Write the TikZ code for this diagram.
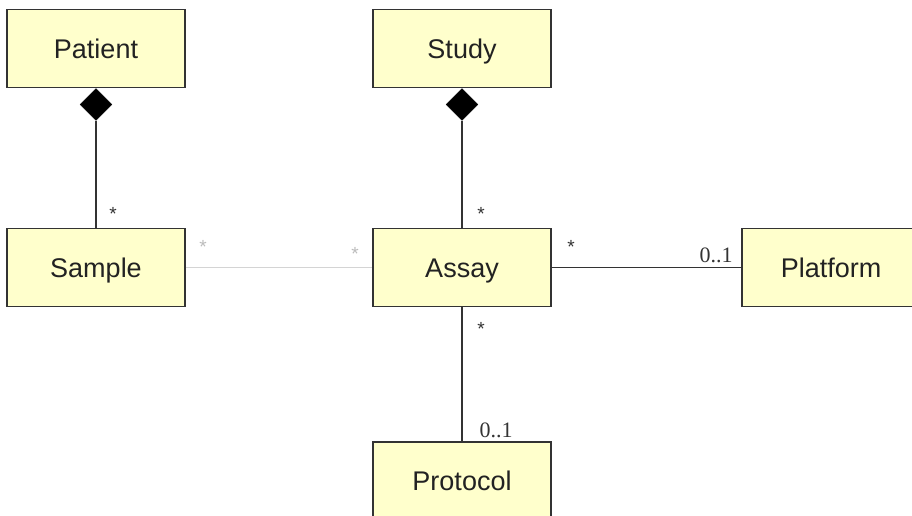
\documentclass[tikz,border=0pt]{standalone}
\usepackage{fontspec}
\setmainfont{Liberation Sans}
\newfontfamily\multfont{Liberation Serif}
\usetikzlibrary{shapes.geometric}
\definecolor{classfill}{HTML}{FFFFCC}
\definecolor{classline}{HTML}{333333}
\definecolor{classtext}{HTML}{222222}
\definecolor{faint}{HTML}{D4D4D4}
\definecolor{faintstar}{HTML}{BBBBBB}
\tikzset{
  classbox/.style={draw=classline, fill=classfill, line width=1.6pt,
    minimum width=178pt, minimum height=78pt, inner sep=0pt,
    text height=19.3pt, text depth=0pt,
    text=classtext, font=\fontsize{27}{30}\selectfont},
  assoc/.style={draw=classline, line width=1.5pt},
  weakassoc/.style={draw=faint, line width=1.5pt},
  mult/.style={font=\fontsize{19}{21}\selectfont, text=classline, inner sep=0pt},
  multnum/.style={font=\multfont\fontsize{22}{24}\selectfont, text=classline, inner sep=0pt},
  comp/.style={diamond, fill=black, draw=black, inner sep=0pt,
    minimum width=32pt, minimum height=32pt}
}
\begin{document}
\begin{tikzpicture}[x=1pt, y=-1pt]
\useasboundingbox (0,0) rectangle (912,516);
% classes
\node[classbox] (patient)  at (96,48.5)  {Patient};
\node[classbox] (study)    at (462,48.5) {Study};
\node[classbox] (sample)   at (96,267.5) {Sample};
\node[classbox] (assay)    at (462,267.5) {Assay};
\node[classbox] (platform) at (831,267.5) {Platform};
\node[classbox] (protocol) at (462,481) {Protocol};
% composition diamonds
\node[comp, anchor=north] (pdia) at (patient.south) {};
\node[comp, anchor=north] (sdia) at (study.south) {};
% associations
\draw[assoc] (pdia.south) -- (sample.north);
\draw[assoc] (sdia.south) -- (assay.north);
\draw[weakassoc] (sample.east) -- (assay.west);
\draw[assoc] (assay.east) -- (platform.west);
\draw[assoc] (assay.south) -- (protocol.north);
% multiplicities
\node[mult] (m1) at (113,214) {*};
\node[mult] (m2) at (481,214) {*};
\node[mult, text=faintstar] (m3) at (203,247) {*};
\node[mult, text=faintstar] (m4) at (355,254) {*};
\node[mult] (m5) at (571,247) {*};
\node[multnum] (m6) at (716,255) {0..1};
\node[mult] (m7) at (481,329) {*};
\node[multnum] (m8) at (496,430) {0..1};
\end{tikzpicture}
\end{document}
